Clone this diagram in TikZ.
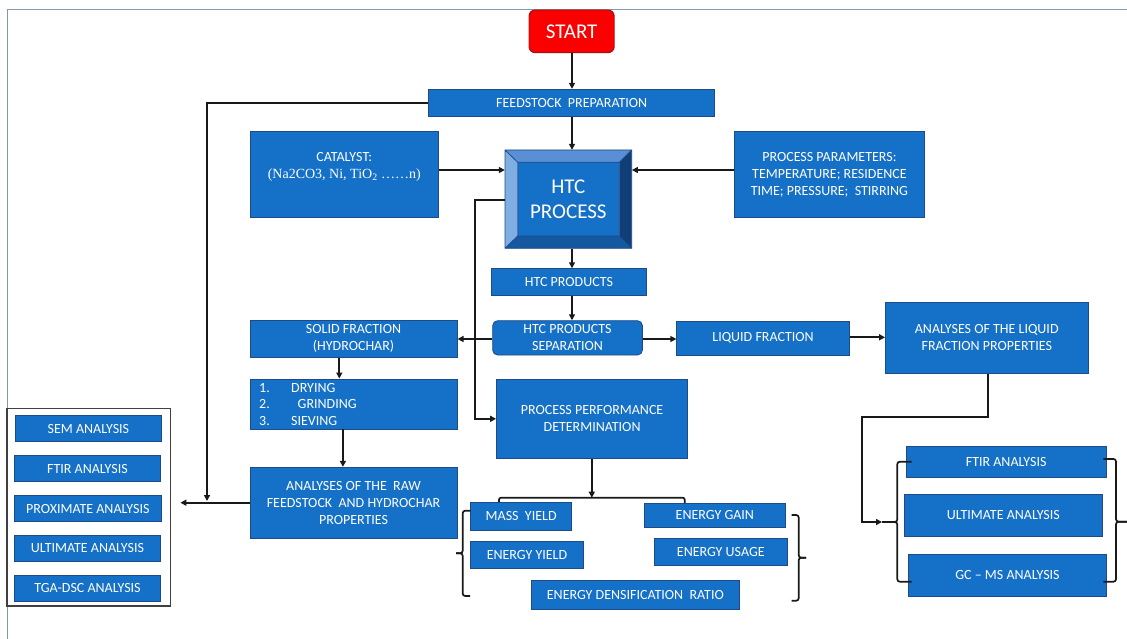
\documentclass[tikz,border=0pt]{standalone}
\usepackage{fontspec}
\setmainfont{Carlito}
\newfontfamily\tnr{Liberation Serif}
\usetikzlibrary{arrows.meta}
\definecolor{boxblue}{RGB}{21,112,199}
\definecolor{boxedge}{RGB}{30,75,135}
\definecolor{framegray}{RGB}{132,150,176}
\definecolor{startred}{RGB}{250,0,0}
\definecolor{startedge}{RGB}{150,20,20}
\definecolor{bvtop}{RGB}{90,143,213}
\definecolor{bvleft}{RGB}{126,174,226}
\definecolor{bvright}{RGB}{16,63,120}
\definecolor{bvbottom}{RGB}{20,88,160}
\begin{document}
\begin{tikzpicture}[x=1pt,y=-1pt,
  box/.style={draw=boxedge, line width=0.9pt, fill=boxblue, text=white, align=center,
    inner sep=0pt, font=\fontsize{14}{17}\selectfont},
  lbl/.style={text=white, inner sep=0pt, font=\fontsize{14}{17}\selectfont},
  arr/.style={-{Triangle[length=6pt,width=6pt]}, line width=1.7pt, draw=black!90},
  ln/.style={line width=1.7pt, draw=black!90},
  brace/.style={line width=1.7pt, draw=black!90, rounded corners=2.5pt}]
\useasboundingbox (0,0) rectangle (1127,639);
\fill[white] (0,0) rectangle (1127,639);
% outer frame
\draw[framegray, line width=1pt] (1127,10) -- (7,10) -- (7,639);

% START
\node[box, fill=startred, draw=startedge, rounded corners=6pt, minimum width=85.2pt, minimum height=42.7pt,
  font=\fontsize{21}{25}\selectfont] (start) at (571.6,31.35) {START};
\node[box, minimum width=286.2pt, minimum height=27.4pt] (feed) at (571.7,103) {FEEDSTOCK\ \ PREPARATION};
\node[box, minimum width=188.6pt, minimum height=85.6pt] (cat) at (344.3,174.5) {};
\node[lbl, align=center] (cattxt) at (344.3,167) {CATALYST:\\{\tnr (Na2CO3, Ni, TiO\textsubscript{2} ……n)}};
\node[box, minimum width=189.5pt, minimum height=85.6pt] (params) at (829.45,174.5)
  {PROCESS PARAMETERS:\\TEMPERATURE; RESIDENCE\\TIME; PRESSURE;\ \ STIRRING};

% HTC bevel box
\fill[bvtop] (505,150) -- (631.7,150) -- (619.3,162.3) -- (517.7,162.3) -- cycle;
\fill[bvleft] (505,150) -- (517.7,162.3) -- (517.7,236) -- (505,248.3) -- cycle;
\fill[bvright] (631.7,150) -- (631.7,248.3) -- (619.3,236) -- (619.3,162.3) -- cycle;
\fill[bvbottom] (505,248.3) -- (517.7,236) -- (619.3,236) -- (631.7,248.3) -- cycle;
\fill[boxblue] (517.7,162.3) rectangle (619.3,236);
\draw[boxedge, line width=0.8pt] (505,150) rectangle (631.7,248.3) (517.7,162.3) rectangle (619.3,236)
  (505,150) -- (517.7,162.3) (631.7,150) -- (619.3,162.3) (505,248.3) -- (517.7,236) (631.7,248.3) -- (619.3,236);
\node[text=white, align=center, inner sep=0pt, minimum width=126.7pt, minimum height=98.3pt,
  font=\fontsize{21}{25}\selectfont] (htc) at (568.35,199.15) {HTC\\PROCESS};

\node[box, minimum width=155.8pt, minimum height=27pt] (prod) at (568.9,282.2) {HTC PRODUCTS};
\node[box, rounded corners=5pt, minimum width=149.7pt, minimum height=34.3pt] (sep) at (567.55,337.85) {HTC PRODUCTS\\SEPARATION};
\node[box, minimum width=207.1pt, minimum height=37.3pt] (solid) at (353.55,338.65) {SOLID FRACTION\\(HYDROCHAR)};
\node[box, minimum width=172.5pt, minimum height=34.7pt] (liquid) at (763.05,338.35) {LIQUID FRACTION};
\node[box, minimum width=202.5pt, minimum height=71.3pt] (anliq) at (986.75,337.65) {ANALYSES OF THE LIQUID\\FRACTION PROPERTIES};
\node[box, minimum width=207.1pt, minimum height=50pt] (dry) at (353.55,404) {};
\node[lbl, anchor=base west] at (259,392.2) {1.};
\node[lbl, anchor=base west] at (259,408.8) {2.};
\node[lbl, anchor=base west] at (259,425.5) {3.};
\node[lbl, anchor=base west] at (291,392.2) {DRYING};
\node[lbl, anchor=base west] at (297.5,408.8) {GRINDING};
\node[lbl, anchor=base west] at (291,425.5) {SIEVING};
\node[box, minimum width=191.2pt, minimum height=79pt] (perf) at (592.1,418.8) {PROCESS PERFORMANCE\\DETERMINATION};
\node[box, minimum width=207.1pt, minimum height=71pt] (anraw) at (353.55,502.8)
  {ANALYSES OF THE\ \ RAW\\FEEDSTOCK\ \ AND HYDROCHAR\\PROPERTIES};

% left analyses frame
\draw[line width=1.5pt, draw=black!75] (7,408.3) rectangle (170.4,606);
\node[box, minimum width=146.8pt, minimum height=26pt] (sem) at (88.4,428.7) {SEM ANALYSIS};
\node[box, minimum width=146.4pt, minimum height=26pt] (ftira) at (87.5,468.7) {FTIR ANALYSIS};
\node[box, minimum width=147.1pt, minimum height=26pt] (prox) at (87.85,508.7) {PROXIMATE ANALYSIS};
\node[box, minimum width=146.4pt, minimum height=25.7pt] (ulta) at (87.5,548.15) {ULTIMATE ANALYSIS};
\node[box, minimum width=146.4pt, minimum height=25.3pt] (tga) at (87.5,588.35) {TGA-DSC ANALYSIS};

% performance outputs
\node[box, minimum width=101pt, minimum height=27.7pt] (mass) at (521.2,516.15) {MASS\ \ YIELD};
\node[box, minimum width=112.6pt, minimum height=27.7pt] (eyield) at (527,554.85) {ENERGY YIELD};
\node[box, minimum width=207.3pt, minimum height=29.3pt] (edr) at (635.35,594.65) {ENERGY DENSIFICATION\ \ RATIO};
\node[box, minimum width=140.3pt, minimum height=24.4pt] (egain) at (714.85,515.5) {ENERGY GAIN};
\node[box, minimum width=133pt, minimum height=27pt] (eusage) at (720.8,551.8) {ENERGY USAGE};

% liquid analyses
\node[box, minimum width=199.7pt, minimum height=30.3pt] (ftirb) at (1006.15,461.85) {FTIR ANALYSIS};
\node[box, minimum width=198pt, minimum height=41.7pt] (ultb) at (1003.3,515.15) {ULTIMATE ANALYSIS};
\node[box, minimum width=198.4pt, minimum height=41.7pt] (gcms) at (1007.5,575.15) {GC -- MS ANALYSIS};

% connectors
\draw[arr] (572,0 |- start.south) -- (572,0 |- feed.north);
\draw[arr] (572,0 |- feed.south) -- (572,0 |- htc.north);
\draw[arr] (cat.east |- 0,170) -- (htc.west |- 0,170);
\draw[arr] (params.west |- 0,170) -- (htc.east |- 0,170);
\draw[arr] (htc.west |- 0,200) -| (475,0 |- perf.west) -- (perf.west);
\draw[arr] (572,0 |- htc.south) -- (572,0 |- prod.north);
\draw[arr] (572,0 |- prod.south) -- (572,0 |- sep.north);
\draw[arr] (sep.west |- 0,339) -- (solid.east |- 0,339);
\draw[arr] (sep.east |- 0,339) -- (liquid.west |- 0,339);
\draw[arr] (liquid.east |- 0,337.3) -- (anliq.west |- 0,337.3);
\draw[arr] (339.3,0 |- solid.south) -- (339.3,0 |- dry.north);
\draw[arr] (342.9,0 |- dry.south) -- (342.9,0 |- anraw.north);
\coordinate (lhit) at (180.4,502.7);
\draw[arr] (anraw.west |- lhit) -- (lhit);
\draw[arr] (feed.west |- 0,103.3) -| (207,501);
\coordinate (bar) at (591.8,497.7);
\draw[arr] (591.8,0 |- perf.south) -- (bar);
\draw[ln, rounded corners=2pt] (499,0 |- mass.north) |- (bar) -| (684.7,0 |- egain.north);
\coordinate (ltip) at (882,522);
\draw[arr] (987.8,0 |- anliq.south) |- (862,417.3) |- (ltip);

% braces
\draw[brace] (470.7,510.7) -- (462.7,510.7) -- (462.7,553.3) -- (456,553.3);
\draw[brace] (470,596) -- (462.7,596) -- (462.7,553.3) -- (456,553.3);
\draw[brace] (791.5,515) -- (798.7,515) -- (798.7,557.7) -- (806,557.7);
\draw[brace] (791.5,600.7) -- (798.7,600.7) -- (798.7,557.7) -- (806,557.7);
\draw[brace] (911.7,461.7) -- (897.3,461.7) -- (897.3,522) -- (882,522);
\draw[brace] (911.7,581.7) -- (897.3,581.7) -- (897.3,522) -- (882,522);
\draw[brace] (1103.3,459) -- (1116,459) -- (1116,521.7) -- (1127,521.7);
\draw[brace] (1103.3,581.7) -- (1116,581.7) -- (1116,521.7) -- (1127,521.7);
\end{tikzpicture}
\end{document}
